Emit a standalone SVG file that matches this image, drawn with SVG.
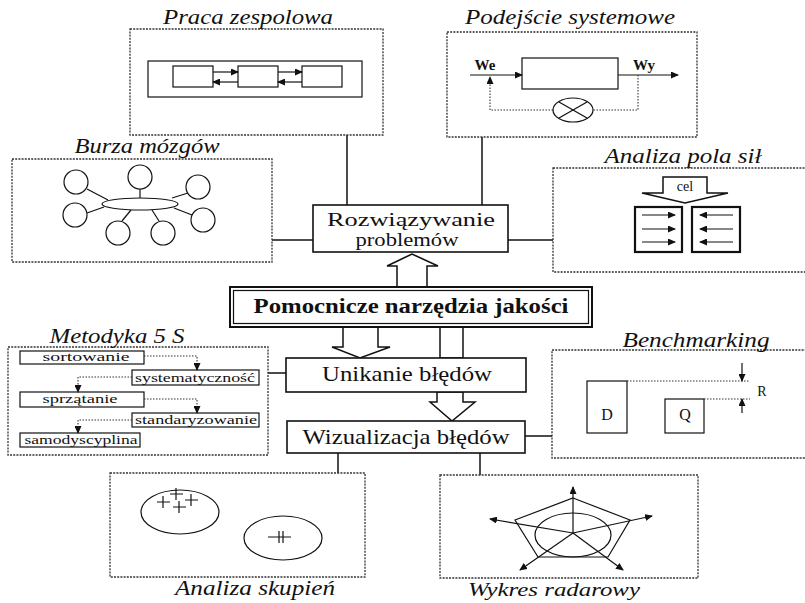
<svg xmlns="http://www.w3.org/2000/svg" width="805" height="603" viewBox="0 0 805 603">
<style>
.dash{fill:none;stroke:#333;stroke-width:1.3;stroke-dasharray:2 1.2}
.box{fill:#fff;stroke:#111;stroke-width:1.6}
.ln{fill:none;stroke:#111;stroke-width:1.5}
.thin{fill:none;stroke:#111;stroke-width:1.2}
.dot{fill:none;stroke:#333;stroke-width:1.1;stroke-dasharray:1.5 1.5}
.hollow{fill:#fff;stroke:#111;stroke-width:1.5}
text{font-family:'Liberation Serif','Times New Roman',serif;fill:#111;text-anchor:middle}
.title{font-style:italic;font-size:20px}
.main{font-size:21px}
.small{font-size:13px}
.lbl{font-size:16px}
</style>
<defs>
<marker id="arrs" markerWidth="8" markerHeight="7" refX="7" refY="3.5" orient="auto" markerUnits="userSpaceOnUse">
<path d="M0,0 L8,3.5 L0,7 Z" fill="#111"/>
</marker>
</defs>
<rect width="805" height="603" fill="#fff"/>

<g id="connectors">
<line class="ln" x1="347" y1="135" x2="347" y2="205"/>
<line class="ln" x1="482" y1="137" x2="482" y2="205"/>
<line class="ln" x1="272" y1="240" x2="313" y2="240"/>
<line class="ln" x1="508" y1="240" x2="553" y2="240"/>
<line class="ln" x1="268" y1="373" x2="286" y2="373"/>
<line class="ln" x1="525" y1="436" x2="552" y2="436"/>
<line class="ln" x1="338" y1="453" x2="338" y2="473"/>
<line class="ln" x1="480" y1="453" x2="480" y2="475"/>
<polygon class="hollow" points="397,287 397,266 387,266 412,254 438,266 427,266 427,287"/>
<polygon class="hollow" points="343,327 343,347 332,347 360,358 390,347 378,347 378,327"/>
<rect class="hollow" x="440" y="327" width="23" height="31"/>
<polygon class="hollow" points="437,392 437,402 430,402 452,421 475,402 463,402 463,392"/>
</g>

<g id="praca-zespolowa">
<text class="title" font-family="Liberation Serif" x="248" y="24" textLength="170" lengthAdjust="spacingAndGlyphs">Praca zespolowa</text>
<rect class="dash" x="130" y="29" width="253" height="106"/>
<rect class="thin" x="148" y="61" width="214" height="36"/>
<rect class="thin" x="173" y="66" width="40" height="21"/>
<rect class="thin" x="238" y="66" width="40" height="21"/>
<rect class="thin" x="302" y="66" width="40" height="21"/>
<line class="thin" x1="213" y1="72" x2="238" y2="72" marker-end="url(#arrs)"/>
<line class="thin" x1="238" y1="82" x2="213" y2="82" marker-end="url(#arrs)"/>
<line class="thin" x1="278" y1="72" x2="302" y2="72" marker-end="url(#arrs)"/>
<line class="thin" x1="302" y1="82" x2="278" y2="82" marker-end="url(#arrs)"/>
</g>

<g id="podejscie-systemowe">
<text class="title" font-family="Liberation Serif" x="570" y="24" textLength="210" lengthAdjust="spacingAndGlyphs">Podejście systemowe</text>
<rect class="dash" x="447" y="32" width="250" height="105"/>
<rect class="thin" x="522" y="58" width="96" height="31"/>
<line class="thin" x1="470" y1="75" x2="522" y2="75" marker-end="url(#arrs)"/>
<line class="thin" x1="618" y1="75" x2="678" y2="75" marker-end="url(#arrs)"/>
<text font-family="Liberation Serif" x="485" y="70" style="font-size:15px;font-weight:bold">We</text>
<text font-family="Liberation Serif" x="644" y="70" style="font-size:15px;font-weight:bold">Wy</text>
<polyline class="dot" points="638,75 638,110 593,110"/>
<polyline class="dot" points="553,110 490,110 490,77" marker-end="url(#arrs)"/>
<ellipse class="thin" cx="573" cy="110" rx="20" ry="12"/>
<line class="thin" x1="559" y1="102" x2="587" y2="118"/>
<line class="thin" x1="559" y1="118" x2="587" y2="102"/>
</g>

<g id="burza-mozgow">
<text class="title" font-family="Liberation Serif" x="147" y="153" textLength="145" lengthAdjust="spacingAndGlyphs">Burza mózgów</text>
<rect class="dash" x="12" y="159" width="260" height="103"/>
<line class="thin" x1="108" y1="200" x2="87" y2="189"/>
<line class="thin" x1="140" y1="198" x2="140" y2="189"/>
<line class="thin" x1="172" y1="198" x2="188" y2="193"/>
<line class="thin" x1="104" y1="207" x2="87" y2="213"/>
<line class="thin" x1="174" y1="208" x2="192" y2="215"/>
<line class="thin" x1="131" y1="210" x2="122" y2="221"/>
<line class="thin" x1="152" y1="210" x2="159" y2="221"/>
<ellipse class="thin" cx="140" cy="204" rx="38" ry="6" fill="#fff"/>
<circle class="thin" cx="76" cy="182" r="12"/>
<circle class="thin" cx="140" cy="177" r="12"/>
<circle class="thin" cx="198" cy="187" r="12"/>
<circle class="thin" cx="75" cy="215" r="12"/>
<circle class="thin" cx="203" cy="220" r="12"/>
<circle class="thin" cx="118" cy="233" r="12"/>
<circle class="thin" cx="163" cy="233" r="12"/>
</g>

<g id="analiza-pola-sil">
<text class="title" font-family="Liberation Serif" x="683" y="163" textLength="157" lengthAdjust="spacingAndGlyphs">Analiza pola sił</text>
<rect class="dash" x="553" y="168" width="260" height="104"/>
<polygon class="hollow" points="663,177 707,177 707,193 728,193 685,203 642,193 663,193"/>
<text font-family="Liberation Serif" x="685" y="191" style="font-size:14px">cel</text>
<rect x="635" y="207" width="47" height="45" fill="#fff" stroke="#111" stroke-width="2.2"/>
<rect x="692" y="207" width="48" height="45" fill="#fff" stroke="#111" stroke-width="2.2"/>
<line class="thin" x1="642" y1="215" x2="675" y2="215" marker-end="url(#arrs)"/>
<line class="thin" x1="642" y1="229" x2="675" y2="229" marker-end="url(#arrs)"/>
<line class="thin" x1="642" y1="242" x2="675" y2="242" marker-end="url(#arrs)"/>
<line class="thin" x1="733" y1="215" x2="700" y2="215" marker-end="url(#arrs)"/>
<line class="thin" x1="733" y1="229" x2="700" y2="229" marker-end="url(#arrs)"/>
<line class="thin" x1="733" y1="242" x2="700" y2="242" marker-end="url(#arrs)"/>
</g>

<g id="rozwiazywanie">
<rect class="box" x="313" y="205" width="195" height="47"/>
<text font-family="Liberation Serif" x="411" y="226" style="font-size:18px" textLength="168" lengthAdjust="spacingAndGlyphs">Rozwiązywanie</text>
<text font-family="Liberation Serif" x="407" y="246" style="font-size:18px" textLength="103" lengthAdjust="spacingAndGlyphs">problemów</text>
</g>

<g id="pomocnicze">
<rect x="230" y="287" width="362" height="40" fill="#fff" stroke="#111" stroke-width="2"/>
<rect x="233.5" y="290.5" width="355" height="33" fill="none" stroke="#111" stroke-width="1.2"/>
<text font-family="Liberation Serif" x="411" y="313" textLength="315" lengthAdjust="spacingAndGlyphs" style="font-size:20px;font-weight:bold">Pomocnicze narzędzia jakości</text>
</g>

<g id="metodyka-5s">
<rect class="dash" x="8" y="347" width="260" height="108"/>
<text class="title" font-family="Liberation Serif" x="117" y="343" textLength="135" lengthAdjust="spacingAndGlyphs">Metodyka 5 S</text>
<rect class="thin" x="20" y="351" width="124" height="13"/>
<text class="small" font-family="Liberation Serif" x="86" y="361" textLength="87" lengthAdjust="spacingAndGlyphs">sortowanie</text>
<rect class="thin" x="132" y="370" width="127" height="15"/>
<text class="small" font-family="Liberation Serif" x="195" y="382" textLength="120" lengthAdjust="spacingAndGlyphs">systematyczność</text>
<rect class="thin" x="20" y="392" width="124" height="15"/>
<text class="small" font-family="Liberation Serif" x="80" y="403" textLength="75" lengthAdjust="spacingAndGlyphs">sprzątanie</text>
<rect class="thin" x="132" y="413" width="127" height="14"/>
<text class="small" font-family="Liberation Serif" x="196" y="424" textLength="122" lengthAdjust="spacingAndGlyphs">standaryzowanie</text>
<rect class="thin" x="20" y="433" width="120" height="14"/>
<text class="small" font-family="Liberation Serif" x="81" y="444" textLength="113" lengthAdjust="spacingAndGlyphs">samodyscyplina</text>
<polyline class="dot" points="144,356 197,356 197,370" marker-end="url(#arrs)"/>
<polyline class="dot" points="132,377 78,377 78,392" marker-end="url(#arrs)"/>
<polyline class="dot" points="144,399 197,399 197,413" marker-end="url(#arrs)"/>
<polyline class="dot" points="132,420 78,420 78,433" marker-end="url(#arrs)"/>
</g>

<g id="unikanie">
<rect class="box" x="286" y="358" width="240" height="34"/>
<text class="main" font-family="Liberation Serif" x="407" y="381" textLength="170" lengthAdjust="spacingAndGlyphs">Unikanie błędów</text>
</g>

<g id="wizualizacja">
<rect class="box" x="287" y="421" width="238" height="32"/>
<text class="main" font-family="Liberation Serif" x="406" y="444" textLength="207" lengthAdjust="spacingAndGlyphs">Wizualizacja błędów</text>
</g>

<g id="benchmarking">
<rect class="dash" x="552" y="350" width="260" height="108"/>
<text class="title" font-family="Liberation Serif" x="696" y="347" textLength="147" lengthAdjust="spacingAndGlyphs">Benchmarking</text>
<rect class="thin" x="587" y="381" width="40" height="52"/>
<text class="lbl" font-family="Liberation Serif" x="607" y="420">D</text>
<rect class="thin" x="665" y="399" width="39" height="34"/>
<text class="lbl" font-family="Liberation Serif" x="685" y="420">Q</text>
<line class="dot" x1="627" y1="381" x2="750" y2="381"/>
<line class="dot" x1="704" y1="399" x2="750" y2="399"/>
<line class="thin" x1="742" y1="363" x2="742" y2="381" marker-end="url(#arrs)"/>
<line class="thin" x1="742" y1="413" x2="742" y2="399" marker-end="url(#arrs)"/>
<text font-family="Liberation Serif" x="762" y="396" style="font-size:14px">R</text>
</g>

<g id="analiza-skupien">
<rect class="dash" x="110" y="473" width="255" height="104"/>
<ellipse class="thin" cx="180" cy="512" rx="39" ry="22"/>
<ellipse class="thin" cx="283" cy="538" rx="39" ry="22"/>
<path class="thin" d="M170,494 h13 M176,488 v12 M157,502 h13 M163,496 v12 M185,500 h13 M191,494 v12 M173,507 h13 M179,501 v12"/>
<path class="thin" d="M268,537 h23 M279,531 v12 M283,531 v12"/>
<text class="title" font-family="Liberation Serif" x="255" y="595" textLength="160" lengthAdjust="spacingAndGlyphs">Analiza skupień</text>
</g>

<g id="wykres-radarowy">
<rect class="dash" x="440" y="475" width="258" height="103"/>
<ellipse class="thin" cx="573" cy="535" rx="38" ry="22"/>
<polygon class="thin" points="573,498 630,520 608,557 538,557 515,520"/>
<line class="thin" x1="573" y1="533" x2="573" y2="487" marker-end="url(#arrs)"/>
<line class="thin" x1="573" y1="533" x2="490" y2="519" marker-end="url(#arrs)"/>
<line class="thin" x1="573" y1="533" x2="652" y2="516" marker-end="url(#arrs)"/>
<line class="thin" x1="573" y1="533" x2="520" y2="570" marker-end="url(#arrs)"/>
<line class="thin" x1="573" y1="533" x2="623" y2="570" marker-end="url(#arrs)"/>
<text class="title" font-family="Liberation Serif" x="554" y="596" style="font-size:19px" textLength="172" lengthAdjust="spacingAndGlyphs">Wykres radarowy</text>
</g>
</svg>
